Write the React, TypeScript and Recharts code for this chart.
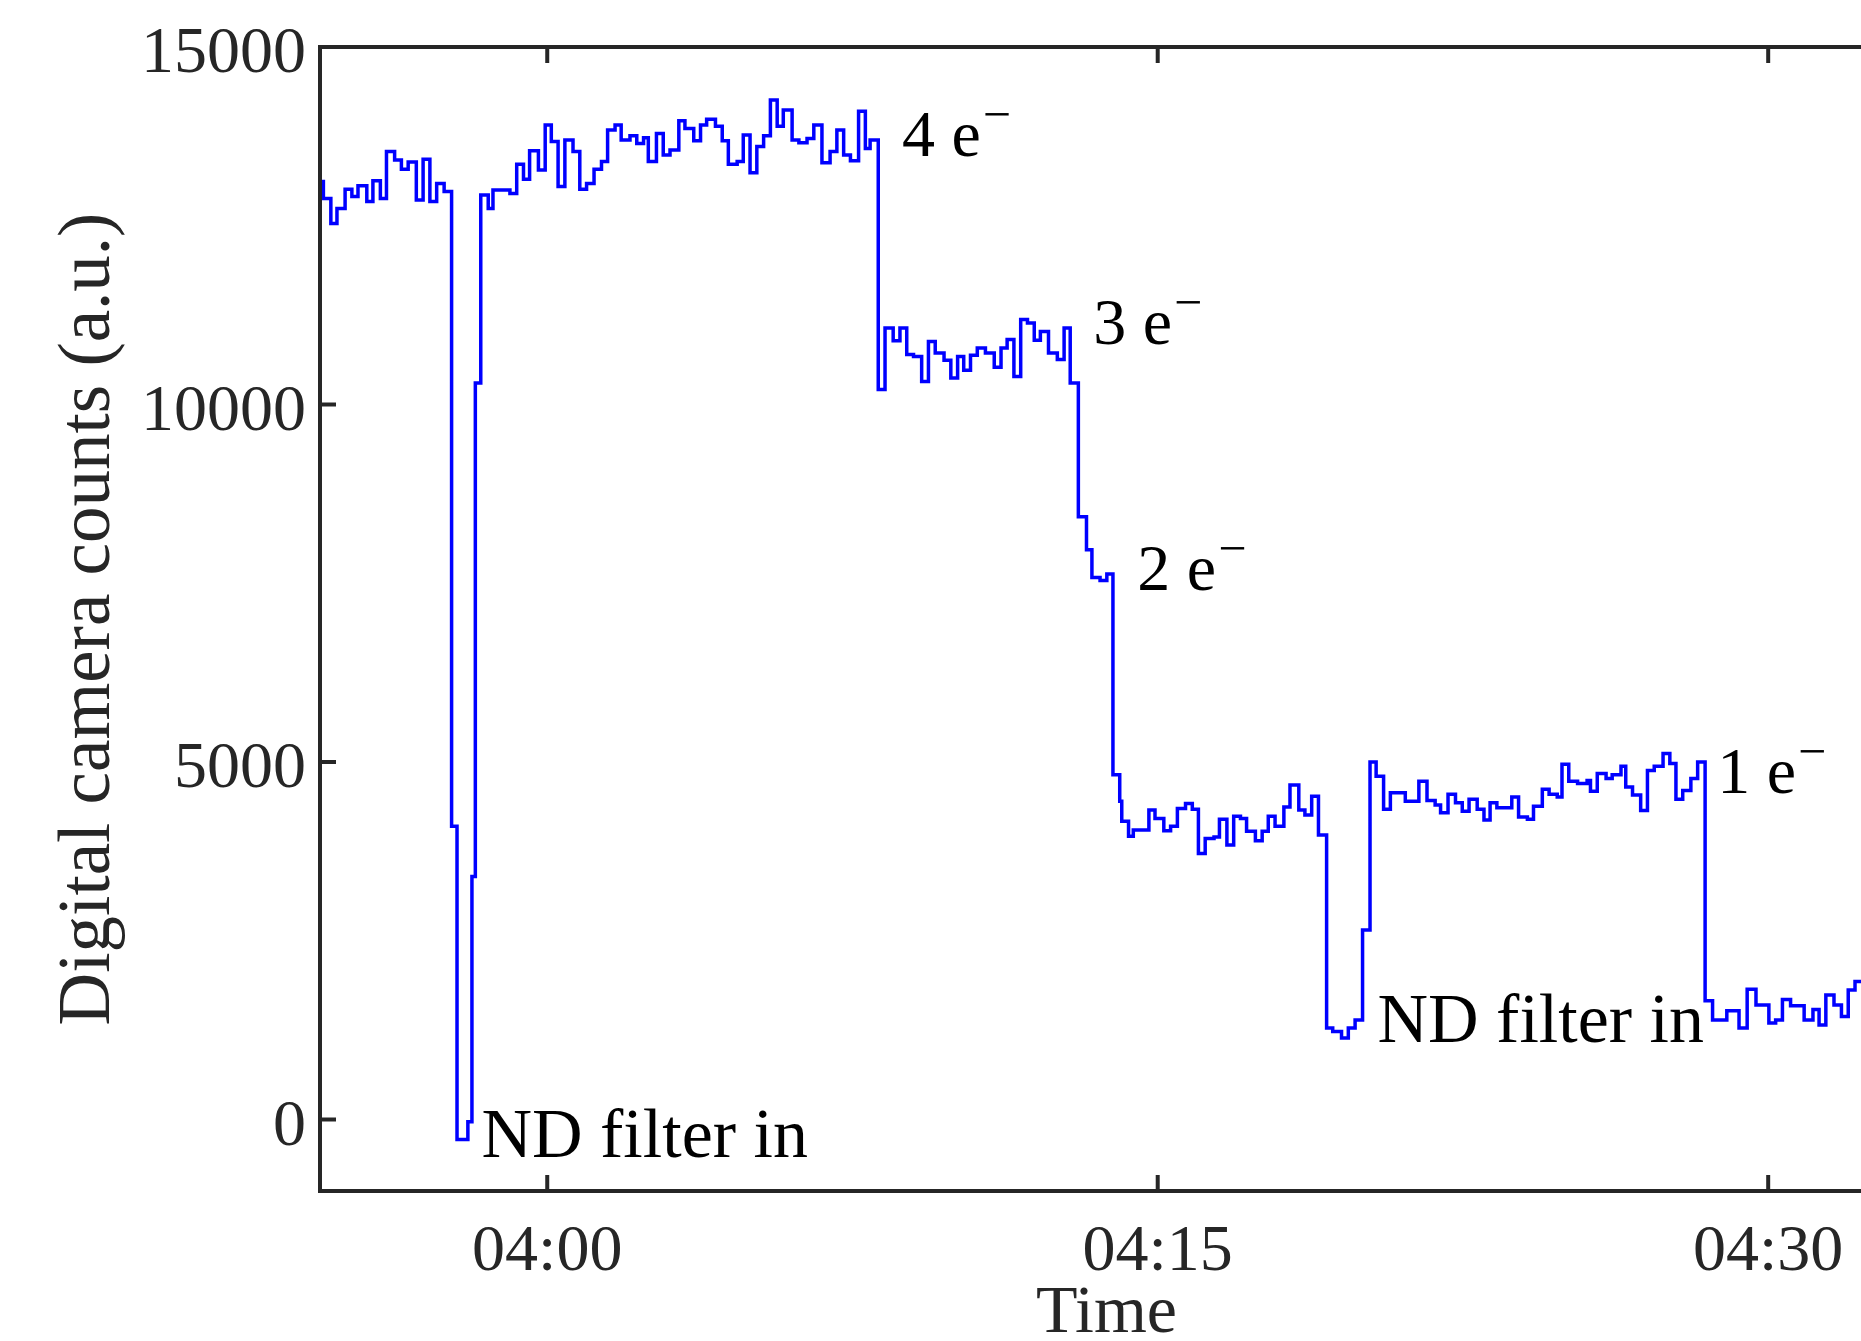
import React from 'react'
import { LineChart, Line, XAxis, YAxis, ReferenceDot } from 'recharts'

// step starts, seconds relative to 04:00
const timeSec = [
  -335, -330, -319, -310, -298, -288, -279, -266, -257, -246, -237, -225, -215, -205, -193, -183, -173, -163, -152,
  -141, -133, -117, -111, -106,
  -98, -87, -80, -55, -45, -35, -26, -13, -3, 6, 16, 26, 38, 48, 58, 69, 80, 89, 100, 109, 122, 132, 142,
  149, 161, 171, 181, 194, 203, 216, 226, 235, 248, 258, 267, 280, 289, 299, 309, 319, 329, 339, 348,
  361, 371, 383, 393, 405, 417, 427, 437, 447, 459, 469, 476,
  488, 498, 510, 520, 530, 540, 552, 562, 572, 585, 595, 605, 614, 624, 634, 646, 659, 669, 678, 688,
  698, 708, 718, 727, 739, 752, 762, 771,
  783, 795, 803, 815, 825,
  834, 844, 847, 857, 864, 887, 896, 909, 919, 929, 941, 951, 960, 970, 983, 991, 1002, 1012, 1022, 1031,
  1044, 1054, 1063, 1073, 1086, 1095, 1108, 1117, 1127, 1137,
  1149, 1158, 1171, 1181, 1191, 1202,
  1213, 1222, 1233, 1243, 1265, 1285, 1297, 1309, 1317, 1328, 1339, 1349, 1359, 1371, 1381, 1390, 1400,
  1422, 1432, 1445, 1454, 1467, 1477, 1489, 1496, 1506, 1519, 1533, 1538, 1548, 1561, 1570, 1583, 1590,
  1600, 1612, 1622, 1632, 1645, 1655, 1664, 1674, 1686, 1696,
  1707, 1718, 1739, 1757, 1769, 1782, 1801, 1811, 1821, 1833, 1853, 1866, 1875, 1885, 1897, 1908, 1918,
  1928, 1940, 1984,
]

const counts = [
  13120, 12880, 12530, 12740, 13010, 12910, 13060, 12840, 13130, 12880, 13540, 13420, 13290, 13390, 12860, 13430, 12840, 13090, 12980,
  4100, -280, -30, 3400, 10300,
  12930, 12740, 13000, 12950, 13360, 13150, 13550, 13280, 13910, 13680, 13050, 13700, 13540, 13010, 13090, 13290, 13400, 13840, 13910, 13700, 13760, 13650, 13730,
  13400, 13790, 13490, 13560, 13970, 13860, 13690, 13910, 13990, 13890, 13690, 13360, 13400, 13770, 13240, 13610, 13760, 14260, 13890, 14120,
  13700, 13660, 13720, 13910, 13380, 13540, 13840, 13490, 13410, 14100, 13580, 13700,
  10210, 11070, 10890, 11070, 10700, 10670, 10320, 10880, 10720, 10620, 10370, 10670, 10480, 10690, 10790, 10720, 10520, 10790, 10910, 10390,
  11190, 11140, 10900, 11020, 10720, 10630, 11070, 10300,
  8430, 7970, 7580, 7540, 7630,
  4820, 4450, 4170, 3960, 4050, 4330, 4210, 4040, 4100, 4350, 4420, 4340, 3720, 3930, 3950, 4200, 3840, 4240, 4210, 4030,
  3900, 4030, 4240, 4100, 4370, 4680, 4330, 4260, 4520, 3980,
  1280, 1230, 1140, 1280, 1390, 2650,
  5000, 4800, 4340, 4570, 4450, 4730, 4460, 4400, 4290, 4550, 4430, 4310, 4480, 4340, 4190, 4430, 4360,
  4510, 4230, 4200, 4380, 4620, 4550, 4510, 4970, 4730, 4700, 4740, 4590, 4840, 4770, 4820, 4940, 4650,
  4540, 4320, 4880, 4940, 5120, 4980, 4480, 4600, 4770, 5000,
  1660, 1390, 1520, 1280, 1820, 1600, 1350, 1390, 1680, 1590, 1390, 1540, 1320, 1740, 1600, 1440, 1810,
  1930, 1950, 1950,
]

const xTicks = [0, 900, 1800]
const xTickLabels = ['04:00', '04:15', '04:30']
const yTicks = [0, 5000, 10000, 15000]

const notes = [
  { t: 523, v: 13480, text: '4 e', charge: true },
  { t: 805, v: 10850, text: '3 e', charge: true },
  { t: 870, v: 7410, text: '2 e', charge: true },
  { t: 1725, v: 4570, text: '1 e', charge: true },
  { t: -97, v: -520, text: 'ND filter in', charge: false },
  { t: 1224, v: 1080, text: 'ND filter in', charge: false },
]

const data = timeSec.map((t, i) => ({ t, count: counts[i] }))

const INK = '#262626'
const FONT = '"Liberation Serif", "Times New Roman", serif'
const TICK_LEN = 16

const YTick = (props: any) => {
  const { x, y, payload } = props
  return (
    <g>
      <line x1={x + 14} x2={x + 14 + TICK_LEN} y1={y} y2={y} stroke={INK} strokeWidth={4} />
      <text x={x} y={y + 25} textAnchor="end" fontFamily={FONT} fontSize={66} fill={INK}>
        {payload.value}
      </text>
    </g>
  )
}

const XTick = (props: any) => {
  const { x, y, payload } = props
  const label = xTickLabels[xTicks.indexOf(payload.value)]
  return (
    <g>
      <line x1={x} x2={x} y1={y} y2={y - TICK_LEN} stroke={INK} strokeWidth={4} />
      <text x={x} y={y + 79} textAnchor="middle" fontFamily={FONT} fontSize={66} fill={INK}>
        {label}
      </text>
    </g>
  )
}

const TopTick = (props: any) => {
  const { x, y } = props
  return <line x1={x} x2={x} y1={y} y2={y + TICK_LEN} stroke={INK} strokeWidth={4} />
}

const TimeLabel = (props: any) => {
  const { viewBox } = props
  return (
    <text x={viewBox.x + viewBox.width / 2} y={viewBox.y + 141} textAnchor="middle" fontFamily={FONT} fontSize={68} fill={INK}>
      Time
    </text>
  )
}

const CountsLabel = (props: any) => {
  const { viewBox } = props
  const cx = viewBox.x + 109
  const cy = viewBox.y + viewBox.height / 2
  return (
    <text x={cx} y={cy} transform={`rotate(-90, ${cx}, ${cy})`} textAnchor="middle" fontFamily={FONT} fontSize={73} fill={INK}>
      Digital camera counts (a.u.)
    </text>
  )
}

const noteShape = (note: any) => (props: any) => (
  <text x={props.cx} y={props.cy} fontFamily={FONT} fontSize={note.charge ? 66 : 70} fill="#000">
    {note.text}
    {note.charge && (
      <tspan fontSize={50} dx={2} dy={-25}>
        {'\u2212'}
      </tspan>
    )}
  </text>
)

export default function App() {
  return (
    <div style={{ position: 'absolute', left: 0, top: 0, width: 1861, height: 1341, overflow: 'hidden', background: '#fff' }}>
      <LineChart width={1900} height={1341} data={data} margin={{ top: 7, right: 7, bottom: 0, left: 0 }}>
        <XAxis
          dataKey="t"
          type="number"
          domain={[-335, 1984]}
          allowDataOverflow
          ticks={xTicks}
          interval={0}
          height={150}
          tickSize={0}
          tickMargin={0}
          tickLine={false}
          tick={<XTick />}
          axisLine={{ stroke: INK, strokeWidth: 4, strokeLinecap: 'square' }}
          label={{ content: <TimeLabel /> }}
        />
        <XAxis
          xAxisId="top"
          orientation="top"
          dataKey="t"
          type="number"
          domain={[-335, 1984]}
          allowDataOverflow
          ticks={xTicks}
          interval={0}
          height={40}
          tickSize={0}
          tickMargin={0}
          tickLine={false}
          tick={<TopTick />}
          axisLine={{ stroke: INK, strokeWidth: 4, strokeLinecap: 'square' }}
        />
        <YAxis
          type="number"
          domain={[-1000, 15000]}
          allowDataOverflow
          ticks={yTicks}
          interval={0}
          width={320}
          tickSize={0}
          tickMargin={14}
          tickLine={false}
          tick={<YTick />}
          axisLine={{ stroke: INK, strokeWidth: 4, strokeLinecap: 'square' }}
          label={{ content: <CountsLabel /> }}
        />
        <Line
          type="stepAfter"
          dataKey="count"
          stroke="#0000ff"
          strokeWidth={3.5}
          dot={false}
          isAnimationActive={false}
        />
        {notes.map((n, i) => (
          <ReferenceDot key={i} x={n.t} y={n.v} r={0} shape={noteShape(n)} ifOverflow="visible" />
        ))}
      </LineChart>
    </div>
  )
}
